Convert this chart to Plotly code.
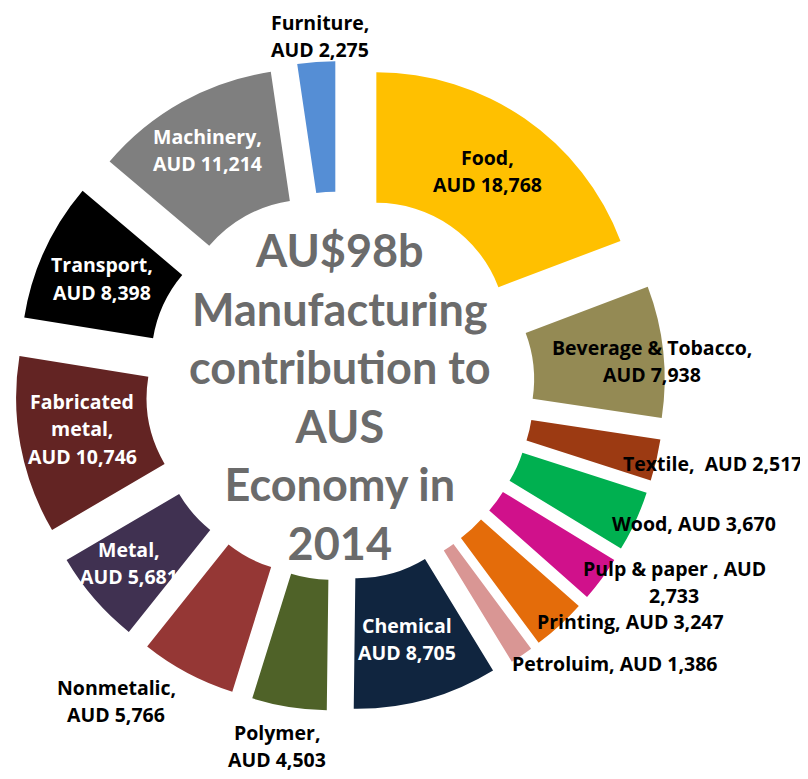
import plotly.graph_objects as go

# ---- data ----
categories = ["Food", "Beverage & Tobacco", "Textile", "Wood", "Pulp & paper",
              "Printing", "Petroluim", "Chemical", "Polymer", "Nonmetalic",
              "Metal", "Fabricated metal", "Transport", "Machinery", "Furniture"]
values = [18768, 7938, 2517, 3670, 2733, 3247, 1386, 8705, 4503, 5766,
          5681, 10746, 8398, 11214, 2275]
label_texts = ["Food,<br>AUD 18,768", "Beverage & Tobacco,<br>AUD 7,938",
               "Textile,  AUD 2,517", "Wood, AUD 3,670",
               "Pulp & paper , AUD<br>2,733", "Printing, AUD 3,247",
               "Petroluim, AUD 1,386", "Chemical<br>AUD 8,705",
               "Polymer,<br>AUD 4,503", "Nonmetalic,<br>AUD 5,766",
               "Metal,<br>AUD 5,681", "Fabricated<br>metal,<br>AUD 10,746",
               "Transport,<br>AUD 8,398", "Machinery,<br>AUD 11,214",
               "Furniture,<br>AUD 2,275"]
center_title = "AU$98b<br>Manufacturing<br>contribution to<br>AUS<br>Economy in<br>2014"

# ---- styles ----
colors = ["#FFC000", "#948A54", "#9C3A12", "#00B050", "#D0118B",
          "#E46C0A", "#D99694", "#10253F", "#4F6228", "#953735",
          "#403151", "#632423", "#000000", "#7F7F7F", "#558ED5"]
label_colors = ["black", "black", "black", "black", "black", "black", "black",
                "white", "black", "black", "white", "white", "white", "white", "black"]
# label anchor (page pixels): x, y of first line, xanchor
label_pos = [(487, 158, "center"), (652, 347, "center"), (622, 463, "left"),
             (611, 523, "left"), (674, 568, "center"), (536, 621, "left"),
             (511, 663, "left"), (407, 625, "center"), (277, 732, "center"),
             (116, 687, "center"), (129, 549, "center"), (82, 402, "center"),
             (102, 265, "center"), (207, 137, "center"), (320, 22, "center")]
LINE_STEP = 27
LABEL_SIZE = 19.5

OFF = 8                 # page body margin
W, H = 800, 771         # figure size inside the 808x779 window
cx, cy, box = 340, 386, 650   # pie centre and box in page pixels


def px_x(px):
    return (px - OFF) / W


def px_y(py):
    return 1 - (py - OFF) / H


fig = go.Figure(go.Pie(
    labels=categories, values=values, sort=False, direction="clockwise",
    rotation=0, hole=0.5, pull=0.245,
    marker=dict(colors=colors, line=dict(width=0)),
    textinfo="none", hoverinfo="label+value",
    domain=dict(x=[px_x(cx - box / 2), px_x(cx + box / 2)],
                y=[px_y(cy + box / 2), px_y(cy - box / 2)]),
))

annotations = []
for txt, col, (px, py, xa) in zip(label_texts, label_colors, label_pos):
    for i, line in enumerate(txt.split("<br>")):
        annotations.append(dict(
            text=line, x=px_x(px), y=px_y(py + i * LINE_STEP),
            xref="paper", yref="paper", xanchor=xa, yanchor="middle",
            showarrow=False, align="center", borderpad=0,
            font=dict(family="Open Sans", size=LABEL_SIZE, color=col,
                      weight="bold")))
annotations.append(dict(
    text=center_title, x=px_x(cx), y=px_y(396), xref="paper", yref="paper",
    xanchor="center", yanchor="middle", showarrow=False, align="center",
    font=dict(family="Lato", size=45, color="#6B6B6B", weight="bold")))

fig.update_layout(
    width=W, height=H, margin=dict(l=0, r=0, t=0, b=0),
    showlegend=False, paper_bgcolor="white", plot_bgcolor="white",
    annotations=annotations)

fig.write_html("out.html")
